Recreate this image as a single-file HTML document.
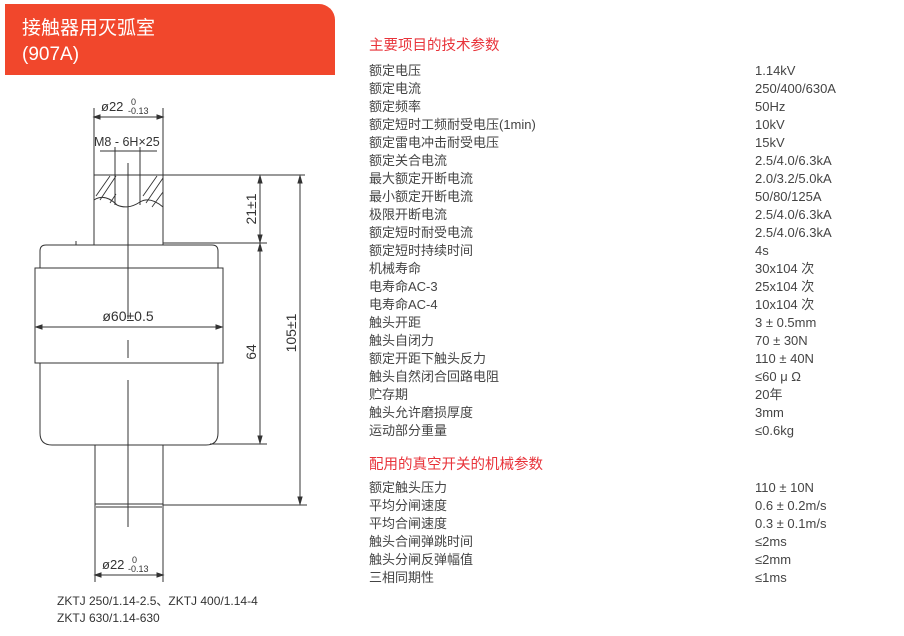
<!DOCTYPE html>
<html><head><meta charset="utf-8"><style>
body{margin:0;width:904px;height:636px;background:#fff;position:relative;overflow:hidden;font-family:"Liberation Sans","Noto Sans CJK SC",sans-serif;}
.hdr{position:absolute;left:5px;top:4px;width:330px;height:71px;background:#f1472c;border-top-right-radius:16px;}
.hdr div{position:absolute;left:17px;color:#fff;font-size:19px;line-height:22px;}
.t{position:absolute;font-size:13px;color:#444;white-space:nowrap;line-height:16px;}
.r{color:#e8333a;font-size:14.5px;}
</style></head><body>
<div class="hdr"><div style="top:14px">接触器用灭弧室</div><div style="top:40px">(907A)</div></div>
<svg width="904" height="636" style="position:absolute;left:0;top:0" font-family="Liberation Sans, sans-serif" fill="none" stroke="#333" stroke-width="1">
<line x1="94" y1="108" x2="94" y2="245"/><line x1="163" y1="108" x2="163" y2="245"/>
<line x1="94" y1="117" x2="163" y2="117"/>
<path d="M94 117l6-2v4zM163 117l-6-2v4z" fill="#333"/>
<text x="101" y="111" font-size="13" fill="#333" stroke="none">ø22</text>
<text x="131" y="105" font-size="9" fill="#333" stroke="none">0</text>
<text x="128" y="114" font-size="9" fill="#333" stroke="none">-0.13</text>
<text x="94" y="146" font-size="12.5" fill="#333" stroke="none">M8 - 6H×25</text>
<line x1="100" y1="151" x2="157" y2="151"/>
<line x1="115" y1="147" x2="115" y2="205"/><line x1="140" y1="147" x2="140" y2="205"/>
<line x1="94" y1="175" x2="305" y2="175"/>
<path d="M94 200 Q105 193 117 205 Q128 210 140 202 Q150 196 163 207"/>
<path d="M96 196l14-20M100 200l16-24M110 203l6-9M143 196l14-20M146 203l17-25M152 207l11-15" stroke-width="0.9"/>
<line x1="128" y1="163" x2="128" y2="319"/><line x1="128" y1="340" x2="128" y2="358"/><line x1="128" y1="380" x2="128" y2="527"/>
<path d="M40 268V251q0-6 6-6h166q6 0 6 6v17"/>
<line x1="76" y1="241" x2="76" y2="245"/>
<rect x="35" y="268" width="188" height="95"/>
<path d="M40 363V433q0 12 12 12h154q12 0 12-12V363"/>
<line x1="36" y1="327" x2="222" y2="327"/>
<path d="M36 327l6-2v4zM222 327l-6-2v4z" fill="#333"/>
<text x="128" y="321" font-size="14" fill="#333" stroke="none" text-anchor="middle">ø60±0.5</text>
<line x1="95" y1="445" x2="95" y2="582"/><line x1="163" y1="445" x2="163" y2="582"/>
<line x1="95" y1="504" x2="163" y2="504"/><line x1="96" y1="507" x2="162" y2="507"/>
<line x1="95" y1="575" x2="163" y2="575"/>
<path d="M95 575l6-2v4zM163 575l-6-2v4z" fill="#333"/>
<text x="102" y="569" font-size="13" fill="#333" stroke="none">ø22</text>
<text x="132" y="563" font-size="9" fill="#333" stroke="none">0</text>
<text x="128" y="572" font-size="9" fill="#333" stroke="none">-0.13</text>
<line x1="163" y1="243" x2="267" y2="243"/>
<line x1="210" y1="444" x2="267" y2="444"/>
<line x1="163" y1="505" x2="307" y2="505"/>
<line x1="260" y1="177" x2="260" y2="442"/>
<path d="M260 176l-2 7h4zM260 242l-2-7h4zM260 244l-2 7h4zM260 443l-2-7h4z" fill="#333"/>
<line x1="300" y1="177" x2="300" y2="503"/>
<path d="M300 176l-2 7h4zM300 504l-2-7h4z" fill="#333"/>
<text transform="translate(256 209) rotate(-90)" font-size="14" fill="#333" stroke="none" text-anchor="middle">21±1</text>
<text transform="translate(256 352) rotate(-90)" font-size="14" fill="#333" stroke="none" text-anchor="middle">64</text>
<text transform="translate(296 333) rotate(-90)" font-size="14" fill="#333" stroke="none" text-anchor="middle">105±1</text>
<text x="57" y="605" font-size="12" fill="#333" stroke="none">ZKTJ 250/1.14-2.5、ZKTJ 400/1.14-4</text>
<text x="57" y="622" font-size="12" fill="#333" stroke="none">ZKTJ 630/1.14-630</text>
</svg>
<div class="t r" style="left:369px;top:38px">主要项目的技术参数</div>
<div class="t" style="left:369px;top:62px;line-height:18px">额定电压<br>额定电流<br>额定频率<br>额定短时工频耐受电压(1min)<br>额定雷电冲击耐受电压<br>额定关合电流<br>最大额定开断电流<br>最小额定开断电流<br>极限开断电流<br>额定短时耐受电流<br>额定短时持续时间<br>机械寿命<br>电寿命AC-3<br>电寿命AC-4<br>触头开距<br>触头自闭力<br>额定开距下触头反力<br>触头自然闭合回路电阻<br>贮存期<br>触头允许磨损厚度<br>运动部分重量</div>
<div class="t" style="left:755px;top:62px;line-height:18px">1.14kV<br>250/400/630A<br>50Hz<br>10kV<br>15kV<br>2.5/4.0/6.3kA<br>2.0/3.2/5.0kA<br>50/80/125A<br>2.5/4.0/6.3kA<br>2.5/4.0/6.3kA<br>4s<br>30x104 次<br>25x104 次<br>10x104 次<br>3 ± 0.5mm<br>70 ± 30N<br>110 ± 40N<br>≤60 μ Ω<br>20年<br>3mm<br>≤0.6kg</div>
<div class="t r" style="left:369px;top:457px">配用的真空开关的机械参数</div>
<div class="t" style="left:369px;top:479px;line-height:18px">额定触头压力<br>平均分闸速度<br>平均合闸速度<br>触头合闸弹跳时间<br>触头分闸反弹幅值<br>三相同期性</div>
<div class="t" style="left:755px;top:479px;line-height:18px">110 ± 10N<br>0.6 ± 0.2m/s<br>0.3 ± 0.1m/s<br>≤2ms<br>≤2mm<br>≤1ms</div>
</body></html>
